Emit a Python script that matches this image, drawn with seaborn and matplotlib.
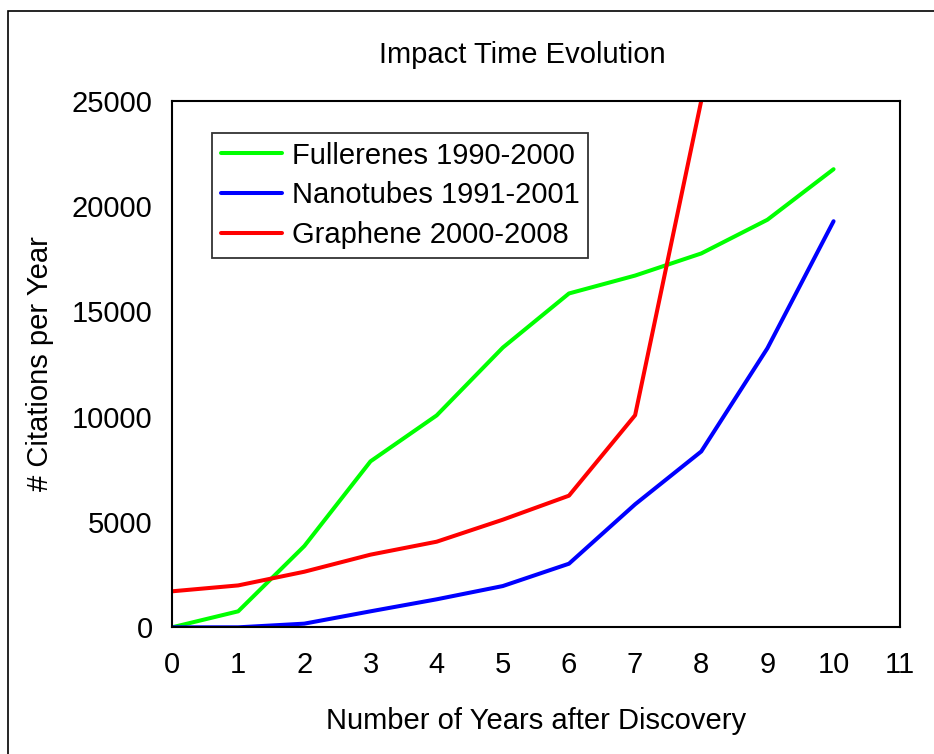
import matplotlib
matplotlib.use("Agg")
import matplotlib.pyplot as plt
import seaborn as sns
import pandas as pd
from matplotlib.patches import Rectangle

# ---- data ----
years_fullerenes = [0, 1, 2, 3, 4, 5, 6, 7, 8, 9, 10]
fullerenes = [0, 760, 3860, 7880, 10060, 13280, 15850, 16700, 17750, 19350, 21750]
years_nanotubes = [0, 1, 2, 3, 4, 5, 6, 7, 8, 9, 10]
nanotubes = [0, 0, 175, 760, 1330, 1960, 3020, 5840, 8350, 13250, 19280]
years_graphene = [0, 1, 2, 3, 4, 5, 6, 7, 8]
graphene = [1710, 1990, 2640, 3450, 4065, 5110, 6250, 10070, 25000]
series_names = ["Fullerenes 1990-2000", "Nanotubes 1991-2001", "Graphene 2000-2008"]
series_colors = ["#00FF00", "#0000FF", "#FF0000"]
x_ticks = list(range(0, 12))
y_ticks = [0, 5000, 10000, 15000, 20000, 25000]

rows = []
for name, xs, ys in zip(series_names,
                        [years_fullerenes, years_nanotubes, years_graphene],
                        [fullerenes, nanotubes, graphene]):
    for x, y in zip(xs, ys):
        rows.append({"Years": x, "Citations": y, "Series": name})
df = pd.DataFrame(rows)

sns.set_style("white")
plt.rcParams['font.family'] = ['Liberation Sans', 'DejaVu Sans']
plt.rcParams['text.color'] = 'black'
plt.rcParams['axes.labelcolor'] = 'black'
plt.rcParams['xtick.color'] = 'black'
plt.rcParams['ytick.color'] = 'black'

FS = 21

fig = plt.figure(figsize=(9.34, 7.54), dpi=100)
ax = fig.add_axes([0.1842, 0.168, 0.7791, 0.6984])

sns.lineplot(data=df, x="Years", y="Citations", hue="Series",
             hue_order=series_names, palette=series_colors,
             linewidth=2.9, ax=ax, legend=True)

ax.set_xlim(0, 11)
ax.set_ylim(0, 25000)
ax.set_xticks(x_ticks)
ax.set_xticklabels([str(t) for t in x_ticks])
ax.set_yticks(y_ticks)
ax.set_yticklabels([str(t) for t in y_ticks])
ax.tick_params(axis="both", direction="out", length=6, width=1.5,
               labelsize=FS, colors="black", labelcolor="black", pad=8)
ax.tick_params(axis="x", pad=11)
for s in ax.spines.values():
    s.set_visible(True)
    s.set_color("black")
    s.set_linewidth(1.5)
ax.grid(False)

ax.set_xlabel("Number of Years after Discovery", fontsize=FS, labelpad=20,
              color="black")
ax.set_ylabel("# Citations per Year", fontsize=FS, labelpad=13, color="black")

fig.text(522 / 934, 1 - 55 / 754, "Impact Time Evolution", fontsize=FS,
         ha="center", va="center", color="black")

leg = ax.legend(loc="upper left", bbox_to_anchor=(0.0546, 0.939),
                fontsize=FS, frameon=True, fancybox=False, edgecolor="black",
                borderpad=0.3, handlelength=2.1, handletextpad=0.35,
                labelspacing=0.4, borderaxespad=0)
leg.get_frame().set_linewidth(1.3)
for t in leg.get_texts():
    t.set_color("black")
for line in leg.get_lines():
    line.set_linewidth(2.9)

# outer frame (extends beyond right/bottom edges)
fig.patches.append(Rectangle((7.5 / 934, -0.5), 2.0, 0.5 + (1 - 11.3 / 754),
                             transform=fig.transFigure, fill=False,
                             edgecolor="black", linewidth=1.2))

fig.savefig("out.png", dpi=100, facecolor="white")
